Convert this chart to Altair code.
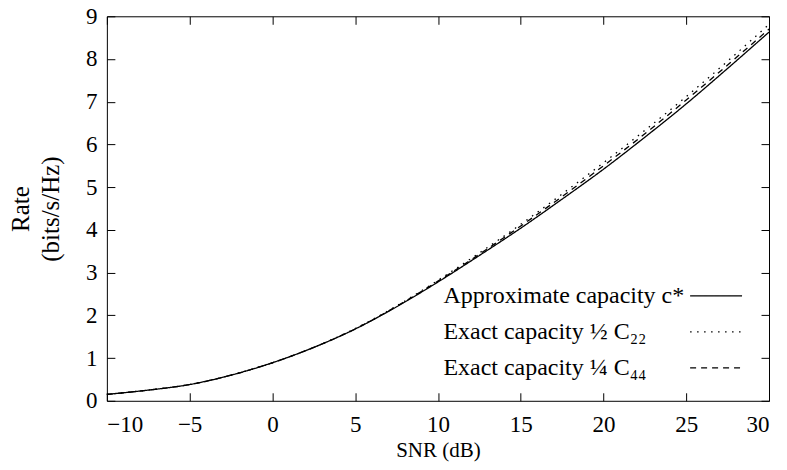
import altair as alt
import pandas as pd

snr = [-10, -7.5, -5, -2.5, 0, 2.5, 5, 7.5, 10, 12.5, 15, 17.5, 20, 22.5, 25, 27.5, 30]
approx_c = [0.15, 0.25, 0.38, 0.60, 0.89, 1.25, 1.68, 2.20, 2.78, 3.40, 4.04, 4.72, 5.42, 6.17, 6.95, 7.78, 8.63]
exact_c22 = [0.15, 0.25, 0.38, 0.60, 0.89, 1.25, 1.69, 2.22, 2.82, 3.46, 4.13, 4.84, 5.57, 6.33, 7.12, 7.95, 8.81]
exact_c44 = [0.15, 0.25, 0.38, 0.60, 0.89, 1.25, 1.68, 2.21, 2.80, 3.43, 4.09, 4.78, 5.50, 6.25, 7.04, 7.86, 8.70]
names = ["Approximate capacity c*", "Exact capacity \u00bd C\u2082\u2082", "Exact capacity \u00bc C\u2084\u2084"]
dashes = [[1, 0], [1.5, 5.5], [6, 5]]
x_ticks = [-10, -5, 0, 5, 10, 15, 20, 25, 30]
y_ticks = [0, 1, 2, 3, 4, 5, 6, 7, 8, 9]

rows = []
for name, vals in zip(names, [approx_c, exact_c22, exact_c44]):
    for s, v in zip(snr, vals):
        rows.append({"snr": s, "rate": v, "series": name})
df = pd.DataFrame(rows)

FONT = "Liberation Serif"
xscale = alt.Scale(domain=[-10, 30], nice=False, zero=False)
yscale = alt.Scale(domain=[0, 9], nice=False, zero=True)

main = alt.Chart(df).mark_line(color="black", strokeWidth=1.3, interpolate="monotone").encode(
    x=alt.X("snr:Q", scale=xscale, axis=alt.Axis(
        values=x_ticks, offset=-8, domain=False, tickSize=8, labelPadding=13,
        title="SNR (dB)", titlePadding=3, titleFontSize=21, grid=False)),
    y=alt.Y("rate:Q", scale=yscale, axis=alt.Axis(
        values=y_ticks, offset=-8, domain=False, tickSize=8, labelPadding=10,
        title=["Rate", "(bits/s/Hz)"], titlePadding=22, titleAngle=-90,
        titleFontSize=25, titleLineHeight=30, grid=False)),
    strokeDash=alt.StrokeDash("series:N", scale=alt.Scale(domain=names, range=dashes),
        legend=alt.Legend(title=None, orient="none", legendX=583, legendY=266,
                          symbolType="M-1,0H3", symbolSize=676, symbolStrokeColor="black",
                          symbolFillColor="transparent",
                          symbolStrokeWidth=1.3, labelAlign="left", labelOffset={"expr": "-274"},
                          labelFontSize=24, labelFont=FONT, labelColor="black",
                          labelLimit=500, rowPadding=10, padding=0)),
)

mirror = alt.Chart(df).mark_line(opacity=0).encode(
    x=alt.X("snr:Q", scale=xscale, axis=alt.Axis(
        orient="top", values=x_ticks, offset=-8, domain=False, tickSize=8,
        labels=False, title=None, grid=False)),
    y=alt.Y("rate:Q", scale=yscale, axis=alt.Axis(
        orient="right", values=y_ticks, offset=-8, domain=False, tickSize=8,
        labels=False, title=None, grid=False)),
    detail="series:N",
)

chart = alt.layer(main, mirror).resolve_axis(x="independent", y="independent").properties(
    width=663, height=385, autosize="none",
    padding={"left": 99, "top": 8, "right": 10, "bottom": 61},
).configure_view(stroke="black", strokeWidth=1).configure_axis(
    labelFont=FONT, labelFontSize=23, labelColor="black", tickColor="black",
    titleFont=FONT, titleFontSize=24, titleColor="black", titleFontWeight="normal",
)

chart.save("out.html", embed_options={"renderer": "svg", "actions": False})
